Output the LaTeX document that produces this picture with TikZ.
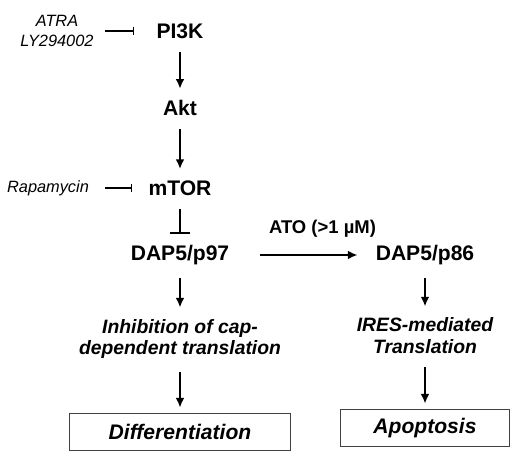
\documentclass[tikz,border=0pt]{standalone}
\usepackage{fontspec}
\setmainfont{Liberation Sans}
\usetikzlibrary{positioning, arrows.meta}

\begin{document}
\begin{tikzpicture}[node distance=1.5cm, on grid,
        prot/.style={font=\fontsize{12}{14}\selectfont\bfseries},
        drug/.style={font=\fontsize{9.3}{11}\selectfont\itshape, align=center},
        effect/.style={font=\fontsize{11}{12.5}\selectfont\bfseries\itshape, align=center},
        outcome/.style={rectangle, draw=black!75, line width=0.7pt, minimum height=0.74cm,
                        font=\fontsize{12}{14}\selectfont\bfseries\itshape},
        arrow/.style={-{Latex[length=5.5pt, width=5pt]}, line width=1.4pt,
                      shorten <=4pt, shorten >=3pt},
        block/.style={line width=0.8pt}]

        \useasboundingbox (0,0) rectangle (10.4,-9.22);

        \node[prot] (pitk) at (3.6,-0.62) {PI3K};
        \node[prot, below=1.54cm of pitk] (akt)  {Akt};
        \node[prot, below=1.6cm of akt]   (mtor) {mTOR};
        \node[prot, below=1.34cm of mtor] (dapl) {DAP5/p97};
        \node[prot, right=4.9cm of dapl]  (dapr) {DAP5/p86};

        \node[drug, left=2.46cm of pitk] (atra) {ATRA\\LY294002};
        \node[drug, left=2.64cm of mtor] (rapa) {Rapamycin};

        \node[effect, below=1.68cm of dapl] (inhib) {Inhibition of cap-\\dependent translation};
        \node[effect, below=1.62cm of dapr] (ires)  {IRES-mediated\\Translation};

        \node[outcome, minimum width=4.42cm, below=1.86cm of inhib] (diff) {Differentiation};
        \node[outcome, minimum width=3.38cm, below=1.84cm of ires]  (apop) {Apoptosis};

        % activation
        \draw[arrow] (pitk)  -- (akt);
        \draw[arrow] (akt)   -- (mtor);
        \draw[arrow] (dapl)  -- (inhib);
        \draw[arrow] (inhib) -- (diff);
        \draw[arrow] (dapr)  -- (ires);
        \draw[arrow] (ires)  -- (apop);
        \draw[arrow, line width=1.1pt, shorten <=0.5cm, shorten >=0.24cm] (dapl) -- (dapr)
            node[prot, midway, above=0.22cm, xshift=0.4cm, font=\fontsize{10.5}{12}\selectfont\bfseries] (ato) {ATO (>1 µM)};

        % inhibition
        \draw[block, -{Bar[width=5pt]}, shorten <=0.1cm, shorten >=0.32cm] (atra) -- (pitk);
        \draw[block, -{Bar[width=5pt]}, shorten <=0.2cm, shorten >=0.2cm] (rapa) -- (mtor);
        \draw[line width=1.2pt, -{Bar[width=11pt, line width=1.2pt]}, shorten <=4pt, shorten >=3pt] (mtor) -- (dapl);
    \end{tikzpicture}
\end{document}
